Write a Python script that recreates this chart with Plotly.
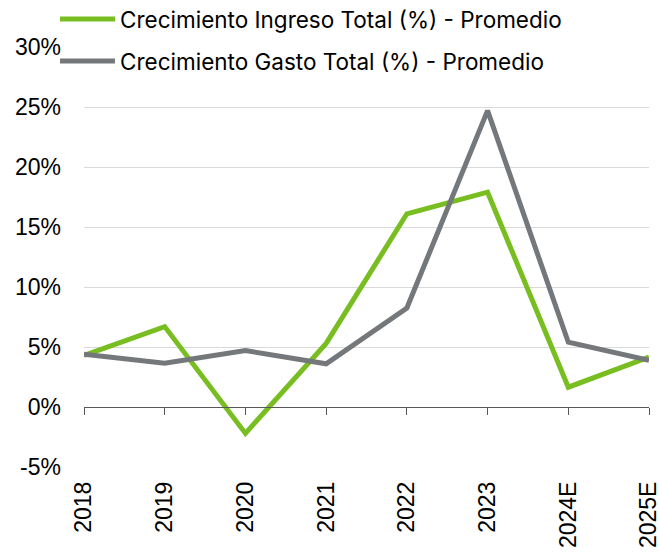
import plotly.graph_objects as go

years = ["2018", "2019", "2020", "2021", "2022", "2023", "2024E", "2025E"]
ingreso = [4.3, 6.7, -2.2, 5.3, 16.1, 17.9, 1.65, 4.15]
gasto = [4.4, 3.65, 4.7, 3.6, 8.25, 24.7, 5.4, 3.9]
y_ticks = [-5, 0, 5, 10, 15, 20, 25, 30]
y_labels = [f"{v}%" for v in y_ticks]

GREEN = "#78BE20"
GRAY = "#75787B"
TICK_FONT = dict(family="Liberation Sans, Arial, sans-serif", size=23, color="#000000")
LEG_FONT = dict(family="Inter, Liberation Sans, sans-serif", size=22.5, color="#000000")

fig = go.Figure()
fig.add_trace(go.Scatter(x=years, y=ingreso, mode="lines", name="Crecimiento Ingreso Total (%) - Promedio",
                         line=dict(color=GREEN, width=5), legend="legend"))
fig.add_trace(go.Scatter(x=years, y=gasto, mode="lines", name="Crecimiento Gasto Total (%) - Promedio",
                         line=dict(color=GRAY, width=5), legend="legend2"))
# invisible trace to bind the zero-line axis
fig.add_trace(go.Scatter(x=years, y=gasto, xaxis="x2", mode="lines", opacity=0,
                         line=dict(width=0), showlegend=False, hoverinfo="skip"))

ymin, ymax = -5, 30
fig.update_layout(
    width=659, height=554,
    margin=dict(l=84, r=10, t=47, b=87, autoexpand=False),
    paper_bgcolor="white", plot_bgcolor="white",
    xaxis=dict(type="category", range=[0, len(years) - 1], showline=False, showgrid=False,
               ticks="", tickangle=-90, tickfont=TICK_FONT, zeroline=False, ticklabelstandoff=9,
               ticklabeloverflow="allow"),
    xaxis2=dict(type="category", range=[0, len(years) - 1], overlaying="x", anchor="free",
                position=(0 - ymin) / (ymax - ymin), side="bottom",
                showline=True, linecolor="#595959", linewidth=1, ticks="outside", ticklen=7,
                tickcolor="#595959", tickwidth=1, showticklabels=False, showgrid=False, zeroline=False),
    yaxis=dict(range=[ymin, ymax], tickvals=y_ticks, ticktext=y_labels, tickfont=TICK_FONT,
               showgrid=True, gridcolor="#D9D9D9", gridwidth=1, zeroline=False, showline=False,
               ticks="", ticklabelstandoff=22),
    legend=dict(x=-0.0513, y=1.066, xanchor="left", yanchor="middle", font=LEG_FONT,
                bgcolor="rgba(0,0,0,0)", itemwidth=55),
    legend2=dict(x=-0.0513, y=0.966, xanchor="left", yanchor="middle", font=LEG_FONT,
                 bgcolor="rgba(0,0,0,0)", itemwidth=55),
    showlegend=True,
)

fig.write_html("out.html", config={"displayModeBar": False},
               post_script="document.body.style.margin='0';document.body.style.overflow='hidden';document.documentElement.style.overflow='hidden';")
